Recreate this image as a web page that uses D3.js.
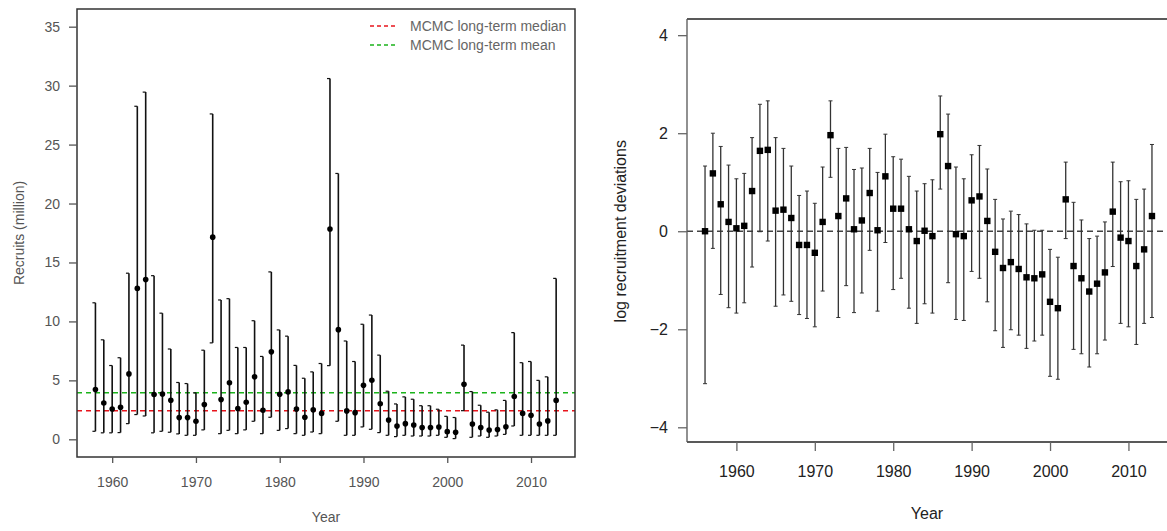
<!DOCTYPE html>
<html>
<head>
<meta charset="utf-8">
<script src="https://cdn.jsdelivr.net/npm/d3@7"></script>
<style>
  html, body { margin: 0; padding: 0; background: #fff; }
  svg { display: block; }
  text { font-family: "Liberation Sans", Arial, sans-serif; }
</style>
</head>
<body>
<svg id="chart" width="1167" height="531"></svg>
<script>
// ---------- Left panel: recruits (million) ----------
const recYears = d3.range(1958, 2014);
const recMedian = [4.22, 3.08, 2.57, 2.72, 5.55, 12.8, 13.55, 3.8, 3.84, 3.31, 1.84, 1.84, 1.53, 2.95,
  17.15, 3.37, 4.79, 2.61, 3.14, 5.31, 2.47, 7.42, 3.82, 4.02, 2.57, 1.87, 2.5, 2.2,
  17.84, 9.3, 2.41, 2.26, 4.59, 5.01, 3.02, 1.63, 1.12, 1.33, 1.22, 1.0, 1.0, 1.05,
  0.65, 0.6, 4.67, 1.3, 1.0, 0.78, 0.83, 1.06, 3.63, 2.2, 2.04, 1.3, 1.56, 3.3];
const recLower = [0.68, 0.55, 0.55, 0.57, 1.33, 2.1, 1.98, 0.55, 0.68, 0.6, 0.46, 0.34, 0.34, 0.8,
  8.18, 0.48, 0.76, 0.48, 0.8, 1.53, 0.48, 1.87, 0.76, 0.91, 0.48, 0.34, 0.62, 0.48,
  6.25, 1.53, 0.34, 0.34, 1.05, 0.85, 0.57, 0.34, 0.23, 0.34, 0.28, 0.28, 0.28, 0.34,
  0.17, 0.06, 2.43, 0.17, 0.28, 0.17, 0.28, 0.42, 1.13, 0.34, 0.34, 0.34, 0.34, 0.34];
const recUpper = [11.58, 8.44, 6.26, 6.92, 14.09, 28.25, 29.45, 13.88, 10.7, 7.66, 4.82, 4.73, 3.94, 7.56,
  27.6, 11.82, 11.93, 7.79, 7.79, 10.06, 7.03, 14.2, 9.28, 8.75, 6.27, 5.18, 5.72, 6.43,
  30.6, 22.55, 8.34, 6.6, 9.76, 10.54, 7.14, 4.08, 3.0, 3.6, 3.4, 2.85, 2.85, 2.55,
  1.95, 1.85, 7.99, 4.05, 2.89, 2.3, 2.5, 3.3, 9.05, 6.5, 6.6, 5.0, 5.3, 13.65];
const recMedianLine = 2.42;
const recMeanLine = 3.95;
const recYTicks = [0, 5, 10, 15, 20, 25, 30, 35];
const recXTicks = [1960, 1970, 1980, 1990, 2000, 2010];
const legendLabels = ["MCMC long-term median", "MCMC long-term mean"];

// ---------- Right panel: log recruitment deviations ----------
const devYears = d3.range(1956, 2014);
const devValue = [0.0, 1.18, 0.55, 0.19, 0.06, 0.11, 0.82, 1.64, 1.66, 0.42, 0.44, 0.27, -0.28, -0.28,
  -0.44, 0.19, 1.96, 0.31, 0.67, 0.04, 0.22, 0.78, 0.02, 1.12, 0.46, 0.46, 0.04, -0.2,
  0.01, -0.1, 1.98, 1.33, -0.06, -0.1, 0.63, 0.71, 0.21, -0.42, -0.75, -0.63, -0.77, -0.94,
  -0.96, -0.88, -1.44, -1.57, 0.65, -0.71, -0.96, -1.23, -1.07, -0.84, 0.4, -0.13, -0.2, -0.71,
  -0.37, 0.31];
const devLower = [-3.11, -0.35, -1.29, -1.56, -1.67, -1.46, -0.73, -0.01, -0.2, -1.53, -1.3, -1.43, -1.7, -1.78,
  -1.95, -1.22, 1.1, -1.76, -1.11, -1.66, -1.26, -0.39, -1.63, -0.23, -1.19, -0.96, -1.57, -1.88,
  -1.48, -1.67, 0.86, -1.05, -1.8, -1.82, -0.82, -0.96, -1.44, -2.03, -2.37, -2.01, -2.12, -2.39,
  -2.24, -2.12, -2.96, -3.02, -0.15, -2.41, -2.5, -2.77, -2.5, -2.22, -0.72, -1.88, -1.95, -2.31,
  -1.88, -1.76];
const devUpper = [1.33, 2.0, 1.73, 1.35, 1.07, 1.18, 1.91, 2.59, 2.66, 1.91, 1.69, 1.33, 0.73, 0.82,
  0.57, 1.31, 2.66, 1.69, 1.71, 1.26, 1.29, 1.69, 1.2, 1.98, 1.52, 1.47, 1.12, 0.82,
  0.97, 1.05, 2.76, 2.39, 1.31, 1.07, 1.56, 1.75, 1.27, 0.65, 0.25, 0.41, 0.34, 0.15,
  0.02, 0.02, -0.37, -0.53, 1.41, 0.59, 0.23, -0.15, -0.1, 0.19, 1.41, 1.01, 1.03, 0.65,
  0.86, 1.77];
const devYTicks = [-4, -2, 0, 2, 4];
const devXTicks = [1960, 1970, 1980, 1990, 2000, 2010];

const svg = d3.select("#chart");

// ================= LEFT PANEL =================
(function () {
  const L = 77, R = 575, T = 9, B = 457;
  const x = d3.scaleLinear().domain([1955.8, 2015.25]).range([L, R]);
  const y = d3.scaleLinear().domain([-1.5, 36.5]).range([B, T]);
  const g = svg.append("g");
  const grey = "#555";

  // reference lines
  g.append("line").attr("x1", L).attr("x2", R)
    .attr("y1", y(recMedianLine)).attr("y2", y(recMedianLine))
    .attr("stroke", "#e8141c").attr("stroke-width", 1.6).attr("stroke-dasharray", "5,4");
  g.append("line").attr("x1", L).attr("x2", R)
    .attr("y1", y(recMeanLine)).attr("y2", y(recMeanLine))
    .attr("stroke", "#1bb31b").attr("stroke-width", 1.6).attr("stroke-dasharray", "5,4");

  // error bars
  const data = recYears.map((yr, i) => ({ yr, m: recMedian[i], lo: recLower[i], hi: recUpper[i] }));
  const eb = g.append("g").attr("stroke", "#111").attr("stroke-width", 1.6);
  data.forEach(d => {
    const cx = x(d.yr);
    eb.append("line").attr("x1", cx).attr("x2", cx).attr("y1", y(d.lo)).attr("y2", y(d.hi));
    eb.append("line").attr("x1", cx - 3).attr("x2", cx).attr("y1", y(d.lo)).attr("y2", y(d.lo)).attr("stroke-width", 1.2);
    eb.append("line").attr("x1", cx - 3).attr("x2", cx).attr("y1", y(d.hi)).attr("y2", y(d.hi)).attr("stroke-width", 1.2);
  });
  g.append("g").selectAll("circle").data(data).join("circle")
    .attr("cx", d => x(d.yr)).attr("cy", d => y(d.m)).attr("r", 2.8).attr("fill", "#000");

  // frame
  g.append("rect").attr("x", L).attr("y", T).attr("width", R - L).attr("height", B - T)
    .attr("fill", "none").attr("stroke", "#333").attr("stroke-width", 1.5);

  // axes
  const ay = g.append("g").attr("transform", `translate(${L},0)`)
    .call(d3.axisLeft(y).tickValues(recYTicks).tickSize(8).tickPadding(9).tickFormat(d3.format("d")));
  ay.select(".domain").remove();
  ay.selectAll("line").attr("stroke", grey).attr("stroke-width", 1.3);
  ay.selectAll("text").attr("fill", grey).style("font-size", "14px");

  const ax = g.append("g").attr("transform", `translate(0,${B})`)
    .call(d3.axisBottom(x).tickValues(recXTicks).tickSize(6).tickPadding(14).tickFormat(d3.format("d")));
  ax.select(".domain").remove();
  ax.selectAll("line").attr("stroke", grey).attr("stroke-width", 1.3);
  ax.selectAll("text").attr("fill", grey).style("font-size", "14px");

  g.append("text").attr("x", 326).attr("y", 522).attr("text-anchor", "middle")
    .attr("fill", grey).style("font-size", "14px").text("Year");
  g.append("text").attr("transform", `translate(24,${(T + B) / 2}) rotate(-90)`)
    .attr("text-anchor", "middle").attr("fill", grey).style("font-size", "14px").text("Recruits (million)");

  // legend
  const lg = g.append("g");
  const colors = ["#e8141c", "#1bb31b"];
  legendLabels.forEach((lab, i) => {
    const ly = 26 + i * 19;
    lg.append("line").attr("x1", 370).attr("x2", 397).attr("y1", ly).attr("y2", ly)
      .attr("stroke", colors[i]).attr("stroke-width", 1.5).attr("stroke-dasharray", "4,3");
    lg.append("text").attr("x", 410).attr("y", ly + 5).attr("fill", "#666")
      .style("font-size", "14px").text(lab);
  });
})();

// ================= RIGHT PANEL =================
(function () {
  const L = 687, R = 1170, T = 19, B = 442;
  const x = d3.scaleLinear().domain([1953.7, 2015.3]).range([L, R]);
  const y = d3.scaleLinear().domain([-4.3, 4.33]).range([B, T]);
  const g = svg.append("g");
  const txt = "#222";

  // zero line
  g.append("line").attr("x1", L).attr("x2", R).attr("y1", y(0)).attr("y2", y(0))
    .attr("stroke", "#444").attr("stroke-width", 1.3).attr("stroke-dasharray", "6,4");

  const data = devYears.map((yr, i) => ({ yr, v: devValue[i], lo: devLower[i], hi: devUpper[i] }));
  const eb = g.append("g").attr("stroke", "#333").attr("stroke-width", 1.3);
  data.forEach(d => {
    const cx = x(d.yr);
    eb.append("line").attr("x1", cx).attr("x2", cx).attr("y1", y(d.lo)).attr("y2", y(d.hi));
    eb.append("line").attr("x1", cx - 2).attr("x2", cx + 2).attr("y1", y(d.lo)).attr("y2", y(d.lo)).attr("stroke-width", 1);
    eb.append("line").attr("x1", cx - 2).attr("x2", cx + 2).attr("y1", y(d.hi)).attr("y2", y(d.hi)).attr("stroke-width", 1);
  });
  g.append("g").selectAll("rect").data(data).join("rect")
    .attr("x", d => x(d.yr) - 3.2).attr("y", d => y(d.v) - 3.2)
    .attr("width", 6.4).attr("height", 6.4).attr("fill", "#000");

  // frame (right side is outside the window)
  g.append("line").attr("x1", L).attr("x2", R).attr("y1", T).attr("y2", T).attr("stroke", "#222").attr("stroke-width", 1.3);
  g.append("line").attr("x1", L).attr("x2", R).attr("y1", B).attr("y2", B).attr("stroke", "#222").attr("stroke-width", 1.3);
  g.append("line").attr("x1", L).attr("x2", L).attr("y1", T).attr("y2", B).attr("stroke", "#555").attr("stroke-width", 1.3);

  const ay = g.append("g").attr("transform", `translate(${L},0)`)
    .call(d3.axisLeft(y).tickValues(devYTicks).tickSize(9).tickPadding(10).tickFormat(d3.format("d")));
  ay.select(".domain").remove();
  ay.selectAll("line").attr("stroke", "#666").attr("stroke-width", 1.3);
  ay.selectAll("text").attr("fill", txt).style("font-size", "16px");

  const ax = g.append("g").attr("transform", `translate(0,${B})`)
    .call(d3.axisBottom(x).tickValues(devXTicks).tickSize(9).tickPadding(15).tickFormat(d3.format("d")));
  ax.select(".domain").remove();
  ax.selectAll("line").attr("stroke", "#666").attr("stroke-width", 1.3);
  ax.selectAll("text").attr("fill", txt).style("font-size", "16px");

  g.append("text").attr("x", 927).attr("y", 519).attr("text-anchor", "middle")
    .attr("fill", txt).style("font-size", "16px").text("Year");
  g.append("text").attr("transform", `translate(626,${y(0)}) rotate(-90)`)
    .attr("text-anchor", "middle").attr("fill", txt).style("font-size", "16px").text("log recruitment deviations");
})();
</script>
</body>
</html>
